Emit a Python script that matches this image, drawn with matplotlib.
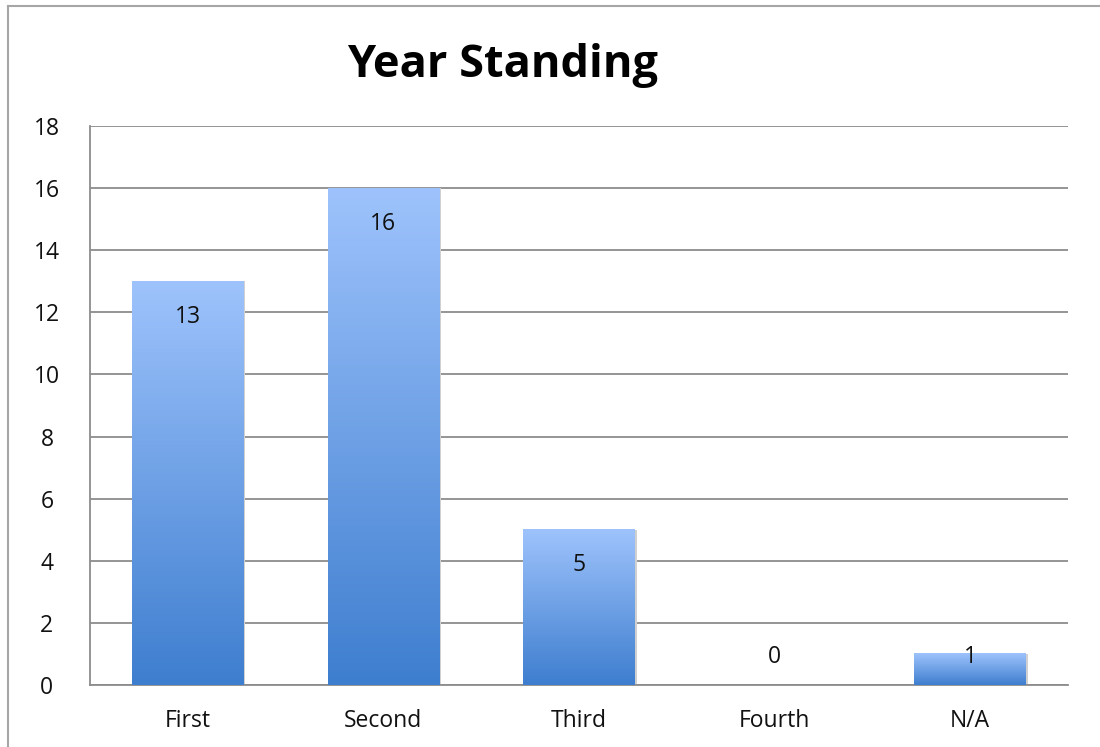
import matplotlib
matplotlib.use("Agg")
import matplotlib.pyplot as plt
import numpy as np
from matplotlib.colors import LinearSegmentedColormap
from matplotlib.lines import Line2D

plt.rcParams['font.family'] = ['Open Sans', 'DejaVu Sans']

categories = ['First', 'Second', 'Third', 'Fourth', 'N/A']
counts = [13, 16, 5, 0, 1]

fig = plt.figure(figsize=(11, 7.47), dpi=100)
ax = fig.add_axes([0.0818, 0.0830, 0.8891, 0.7483])

# chart frame (top and left edges only)
fig.add_artist(Line2D([8/1100, 1.0], [1 - 6/747, 1 - 6/747], color='#a6a6a6', lw=1.5))
fig.add_artist(Line2D([8/1100, 8/1100], [0.0, 1 - 6/747], color='#a6a6a6', lw=1.5))

x = np.arange(len(categories))
width = 0.57
bars = ax.bar(x, counts, width=width, color='none', zorder=3)

grad = LinearSegmentedColormap.from_list('blu', ['#3e7ecf', '#9ec3fc'])
g = np.linspace(0, 1, 256).reshape(-1, 1)
for b, v in zip(bars, counts):
    if v <= 0:
        continue
    x0 = b.get_x()
    # soft shadow at the right edge
    ax.add_patch(plt.Rectangle((x0 + 0.01, 0), width, v, color='#d0d0d0', zorder=2, lw=0))
    ax.imshow(g, cmap=grad, origin='lower', aspect='auto',
              extent=(x0, x0 + width, 0, v), zorder=3)

for xi, v in zip(x, counts):
    ax.text(xi, max(v - 1.15, 0.9), str(v), ha='center', va='center',
            fontsize=16.5, color='#111111', zorder=4)

ax.set_xlim(-0.5, len(categories) - 0.5)
ax.set_ylim(0, 18)
ax.set_yticks(range(0, 19, 2))
ax.set_xticks(x)
ax.set_xticklabels(categories)
ax.yaxis.grid(True, color='#8c8c8c', lw=1.3, zorder=1)
ax.set_axisbelow(True)
for s in ['top', 'right']:
    ax.spines[s].set_visible(False)
ax.spines['left'].set_color('#8c8c8c')
ax.spines['bottom'].set_color('#8c8c8c')
ax.spines['left'].set_linewidth(1.3)
ax.spines['bottom'].set_linewidth(1.3)
ax.spines['left'].set_bounds(0, 18)
ax.tick_params(axis='both', length=0, labelsize=16.5, colors='#111111')
ax.tick_params(axis='y', pad=31)
ax.tick_params(axis='x', pad=17)
for lab in ax.get_yticklabels():
    lab.set_horizontalalignment('center')

fig.text(0.457, 1 - 66/747, 'Year Standing', ha='center', va='center',
         fontsize=32.5, fontweight='bold', color='#000000')

fig.savefig('out.png', dpi=100)
